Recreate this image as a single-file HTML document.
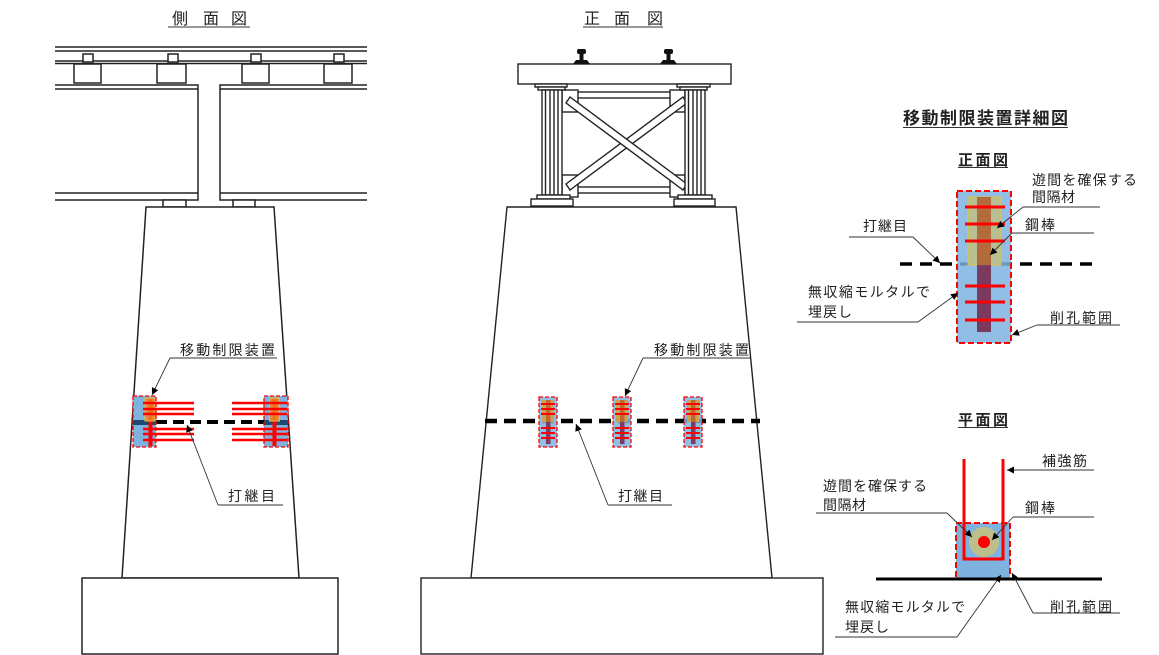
<!DOCTYPE html>
<html><head><meta charset="utf-8"><style>
html,body{margin:0;padding:0;background:#fff;}
svg{display:block;}
text{font-family:"Liberation Sans","Noto Sans CJK JP",sans-serif;fill:#222;}
</style></head><body>
<svg width="1159" height="655" viewBox="0 0 1159 655" xmlns="http://www.w3.org/2000/svg">
<defs>
<marker id="ar" viewBox="0 0 10 10" refX="10" refY="5" markerWidth="9" markerHeight="7" markerUnits="userSpaceOnUse" orient="auto">
<path d="M0,0 L10,5 L0,10 z" fill="#000"/>
</marker>
</defs>
<rect width="1159" height="655" fill="#fff"/>

<!-- ===== LEFT: side view ===== -->
<g font-size="16">
<text x="180" y="24" text-anchor="middle">側</text>
<text x="211" y="24" text-anchor="middle">面</text>
<text x="239" y="24" text-anchor="middle">図</text>
</g>
<line x1="168" y1="27" x2="250" y2="27" stroke="#333" stroke-width="1"/>

<g stroke="#222" stroke-width="1.5" fill="#fff">
<line x1="55" y1="47" x2="367" y2="47"/>
<line x1="55" y1="51" x2="367" y2="51"/>
<line x1="55" y1="61" x2="367" y2="61"/>
<line x1="55" y1="63.5" x2="367" y2="63.5"/>
<rect x="83" y="54" width="10" height="8"/>
<rect x="168" y="54" width="10" height="8"/>
<rect x="251" y="54" width="10" height="8"/>
<rect x="334" y="54" width="10" height="8"/>
<rect x="74" y="64" width="27" height="19"/>
<rect x="157" y="64" width="29" height="19"/>
<rect x="242" y="64" width="27" height="19"/>
<rect x="324" y="64" width="28" height="19"/>
<!-- girders -->
<path d="M55,85 H198 V200 H55" fill="none"/>
<line x1="55" y1="89" x2="198" y2="89"/>
<line x1="55" y1="193" x2="198" y2="193"/>
<path d="M367,85 H220 V200 H367" fill="none"/>
<line x1="220" y1="89" x2="367" y2="89"/>
<line x1="220" y1="193" x2="367" y2="193"/>
<!-- bearings -->
<rect x="163" y="200" width="23" height="7"/>
<rect x="233" y="200" width="22" height="7"/>
<!-- pier -->
<polygon points="146,207 274,207 299,578 122,578"/>
<rect x="82" y="578" width="256" height="76"/>
</g>

<!-- left joint dashed -->
<line x1="156" y1="422" x2="264" y2="422" stroke="#000" stroke-width="4" stroke-dasharray="11 6"/>

<!-- left device -->
<g>
<rect x="133" y="396" width="23" height="51" fill="#7eb3df"/>
<rect x="133" y="420" width="23" height="5" fill="#1d4a72"/>
<rect x="148.5" y="399" width="4" height="47" fill="#f00"/>
<rect x="145" y="398" width="10" height="23" fill="#f5821f" fill-opacity="0.85" stroke="#e6c040" stroke-width="1"/>
<g stroke="#f00" stroke-width="2.5">
<line x1="143" y1="403" x2="194" y2="403"/>
<line x1="143" y1="409" x2="194" y2="409"/>
<line x1="143" y1="414" x2="194" y2="414"/>
<line x1="143" y1="429" x2="194" y2="429"/>
<line x1="143" y1="434" x2="194" y2="434"/>
<line x1="143" y1="440" x2="194" y2="440"/>
</g>
<rect x="133" y="396" width="23" height="51" fill="none" stroke="#f00" stroke-width="1.3" stroke-dasharray="4 2"/>
</g>
<g>
<rect x="264" y="396" width="24" height="51" fill="#7eb3df"/>
<rect x="264" y="420" width="24" height="5" fill="#1d4a72"/>
<rect x="272.5" y="399" width="4" height="47" fill="#f00"/>
<rect x="269.5" y="398" width="10" height="23" fill="#f5821f" fill-opacity="0.85" stroke="#e6c040" stroke-width="1"/>
<g stroke="#f00" stroke-width="2.5">
<line x1="232" y1="403" x2="287" y2="403"/>
<line x1="232" y1="409" x2="287" y2="409"/>
<line x1="232" y1="414" x2="287" y2="414"/>
<line x1="232" y1="429" x2="287" y2="429"/>
<line x1="232" y1="434" x2="287" y2="434"/>
<line x1="232" y1="440" x2="287" y2="440"/>
</g>
<rect x="264" y="396" width="24" height="51" fill="none" stroke="#f00" stroke-width="1.3" stroke-dasharray="4 2"/>
</g>

<!-- left labels -->
<g font-size="14">
<text x="180" y="355" textLength="95" lengthAdjust="spacing">移動制限装置</text>
<text x="228" y="501" textLength="47" lengthAdjust="spacing">打継目</text>
</g>
<g stroke="#333" stroke-width="0.9" fill="none">
<line x1="170" y1="358" x2="277" y2="358"/>
<line x1="170" y1="358" x2="152" y2="395" marker-end="url(#ar)"/>
<line x1="218" y1="505" x2="283" y2="505"/>
<line x1="218" y1="505" x2="187" y2="425" marker-end="url(#ar)"/>
</g>

<!-- ===== MIDDLE: front view ===== -->
<g font-size="16">
<text x="592" y="24" text-anchor="middle">正</text>
<text x="622" y="24" text-anchor="middle">面</text>
<text x="655" y="24" text-anchor="middle">図</text>
</g>
<line x1="583" y1="27" x2="663" y2="27" stroke="#333" stroke-width="1"/>

<g stroke="#222" stroke-width="1.4" fill="#fff">
<polygon points="507,207 736,207 772,578 471,578"/>
<rect x="421" y="578" width="402" height="76"/>
<!-- deck -->
<rect x="518" y="64" width="213" height="20"/>
<!-- bracing frame -->
<rect x="568" y="92" width="109" height="6"/>
<rect x="568" y="187" width="109" height="6"/>
<rect x="562" y="90" width="16" height="22"/>
<rect x="562" y="175" width="16" height="22"/>
<rect x="670" y="90" width="15" height="22"/>
<rect x="670" y="175" width="15" height="22"/>
<polygon points="683,97 687,103 570,190 566,184"/>
<polygon points="566,103 570,97 687,184 683,190"/>
<!-- left column -->
<rect x="535" y="84" width="32" height="3"/>
<rect x="538" y="87" width="27" height="3"/>
<rect x="542" y="90" width="20" height="105"/>
<line x1="545.5" y1="90" x2="545.5" y2="195"/>
<line x1="550" y1="90" x2="550" y2="195"/>
<line x1="554" y1="90" x2="554" y2="195"/>
<line x1="558" y1="90" x2="558" y2="195"/>
<rect x="537" y="195" width="33" height="4"/>
<rect x="531" y="199" width="42" height="7"/>
<!-- right column -->
<rect x="677" y="84" width="33" height="3"/>
<rect x="680" y="87" width="27" height="3"/>
<rect x="685" y="90" width="20" height="105"/>
<line x1="688.5" y1="90" x2="688.5" y2="195"/>
<line x1="693" y1="90" x2="693" y2="195"/>
<line x1="697" y1="90" x2="697" y2="195"/>
<line x1="701" y1="90" x2="701" y2="195"/>
<rect x="678" y="195" width="34" height="4"/>
<rect x="674" y="199" width="41" height="7"/>
</g>
<!-- rails -->
<g fill="#111">
<rect x="577" y="49" width="9" height="5" rx="2"/>
<rect x="579.5" y="53" width="4" height="8"/>
<polygon points="573,64 590,64 587,60 576,60"/>
<rect x="664" y="49" width="9" height="5" rx="2"/>
<rect x="666.5" y="53" width="4" height="8"/>
<polygon points="660,64 677,64 674,60 663,60"/>
</g>

<!-- mid joint dashed -->
<line x1="485" y1="421" x2="760" y2="421" stroke="#000" stroke-width="4.5" stroke-dasharray="12 7"/>

<!-- mid devices -->
<g id="dv">
<rect x="539" y="397" width="18" height="50" fill="#7eb3df" fill-opacity="0.85"/>
<rect x="542" y="400" width="12" height="22" fill="#c9a254"/>
<rect x="546" y="400" width="4.5" height="22" fill="#c0692f"/>
<rect x="546" y="422" width="4.5" height="22" fill="#7b3b62"/>
<g stroke="#f00" stroke-width="2">
<line x1="541" y1="404" x2="555" y2="404"/>
<line x1="541" y1="409" x2="555" y2="409"/>
<line x1="541" y1="414" x2="555" y2="414"/>
<line x1="541" y1="428" x2="555" y2="428"/>
<line x1="541" y1="433" x2="555" y2="433"/>
<line x1="541" y1="438" x2="555" y2="438"/>
</g>
<rect x="539" y="397" width="18" height="50" fill="none" stroke="#f00" stroke-width="1.3" stroke-dasharray="4 2"/>
</g>
<use href="#dv" x="74" y="0"/>
<use href="#dv" x="145" y="0"/>

<g font-size="14">
<text x="654" y="355" textLength="95" lengthAdjust="spacing">移動制限装置</text>
<text x="618" y="501" textLength="45" lengthAdjust="spacing">打継目</text>
</g>
<g stroke="#333" stroke-width="0.9" fill="none">
<line x1="643" y1="358" x2="751" y2="358"/>
<line x1="643" y1="358" x2="625" y2="396" marker-end="url(#ar)"/>
<line x1="608" y1="505" x2="672" y2="505"/>
<line x1="608" y1="505" x2="576" y2="424" marker-end="url(#ar)"/>
</g>

<!-- ===== RIGHT: detail ===== -->
<text x="903" y="124" font-size="17" font-weight="bold" textLength="165" lengthAdjust="spacing">移動制限装置詳細図</text>
<line x1="903" y1="127.5" x2="1068" y2="127.5" stroke="#333" stroke-width="1"/>
<text x="958" y="165" font-size="15" font-weight="bold" textLength="50" lengthAdjust="spacing">正面図</text>
<line x1="958" y1="167.5" x2="1008" y2="167.5" stroke="#333" stroke-width="1"/>

<!-- front detail -->
<line x1="900" y1="264" x2="1097" y2="264" stroke="#000" stroke-width="3.5" stroke-dasharray="12 8"/>
<rect x="957" y="191" width="54" height="152" fill="#7eb3df" fill-opacity="0.85"/>
<rect x="968" y="197" width="33" height="68" fill="#bcbf8a" fill-opacity="0.9" stroke="#e6c040" stroke-width="1"/>
<rect x="977" y="197" width="14" height="68" fill="#b26c3c"/>
<rect x="977" y="265" width="14" height="67" fill="#7b3a60"/>
<g stroke="#f00" stroke-width="3">
<line x1="965" y1="207" x2="1005" y2="207"/>
<line x1="965" y1="224" x2="1005" y2="224"/>
<line x1="965" y1="241" x2="1005" y2="241"/>
<line x1="965" y1="286" x2="1005" y2="286"/>
<line x1="965" y1="302" x2="1005" y2="302"/>
<line x1="965" y1="320" x2="1005" y2="320"/>
</g>
<rect x="957" y="191" width="54" height="152" fill="none" stroke="#f00" stroke-width="2" stroke-dasharray="6 3"/>

<g font-size="14">
<text x="1032" y="185" textLength="105" lengthAdjust="spacing">遊間を確保する</text>
<text x="1032" y="202" textLength="43" lengthAdjust="spacing">間隔材</text>
<text x="1025" y="230" textLength="30" lengthAdjust="spacing">鋼棒</text>
<text x="863" y="231" textLength="44" lengthAdjust="spacing">打継目</text>
<text x="808" y="297" textLength="122" lengthAdjust="spacing">無収縮モルタルで</text>
<text x="808" y="317" textLength="44" lengthAdjust="spacing">埋戻し</text>
<text x="1050" y="323" textLength="62" lengthAdjust="spacing">削孔範囲</text>
</g>
<g stroke="#333" stroke-width="0.9" fill="none">
<line x1="849" y1="237" x2="913" y2="237"/>
<line x1="913" y1="237" x2="940" y2="263" marker-end="url(#ar)"/>
<line x1="1023" y1="207" x2="1100" y2="207"/>
<line x1="1023" y1="207" x2="997" y2="228" marker-end="url(#ar)"/>
<line x1="1012" y1="233" x2="1094" y2="233"/>
<line x1="1012" y1="233" x2="990" y2="255" marker-end="url(#ar)"/>
<line x1="797" y1="322" x2="918" y2="322"/>
<line x1="918" y1="322" x2="958" y2="293" marker-end="url(#ar)"/>
<line x1="1037" y1="325" x2="1120" y2="325"/>
<line x1="1037" y1="325" x2="1012" y2="335" marker-end="url(#ar)"/>
</g>

<!-- plan detail -->
<text x="958" y="425" font-size="15" font-weight="bold" textLength="50" lengthAdjust="spacing">平面図</text>
<line x1="958" y1="427.5" x2="1008" y2="427.5" stroke="#333" stroke-width="1"/>

<rect x="956" y="523" width="54" height="55" fill="#7eb3df"/>
<circle cx="984" cy="542" r="15" fill="#bcbf8a"/>
<circle cx="984" cy="542" r="6" fill="#f00"/>
<path d="M964,459 V559 H1003 V459" fill="none" stroke="#f00" stroke-width="3"/>
<path d="M956,577 V523 H1010 V577" fill="none" stroke="#f00" stroke-width="2" stroke-dasharray="6 3"/>
<line x1="876" y1="579" x2="1102" y2="579" stroke="#000" stroke-width="3"/>

<g font-size="14">
<text x="1042" y="466" textLength="45" lengthAdjust="spacing">補強筋</text>
<text x="823" y="491" textLength="104" lengthAdjust="spacing">遊間を確保する</text>
<text x="823" y="510" textLength="43" lengthAdjust="spacing">間隔材</text>
<text x="1025" y="513" textLength="30" lengthAdjust="spacing">鋼棒</text>
<text x="845" y="612" textLength="120" lengthAdjust="spacing">無収縮モルタルで</text>
<text x="845" y="632" textLength="44" lengthAdjust="spacing">埋戻し</text>
<text x="1050" y="612" textLength="62" lengthAdjust="spacing">削孔範囲</text>
</g>
<g stroke="#333" stroke-width="0.9" fill="none">
<line x1="1094" y1="470" x2="1007" y2="470" marker-end="url(#ar)"/>
<line x1="816" y1="513" x2="947" y2="513"/>
<line x1="947" y1="513" x2="972" y2="537" marker-end="url(#ar)"/>
<line x1="1013" y1="517" x2="1094" y2="517"/>
<line x1="1013" y1="517" x2="992" y2="540" marker-end="url(#ar)"/>
<line x1="835" y1="637" x2="957" y2="637"/>
<line x1="957" y1="637" x2="1001" y2="575" marker-end="url(#ar)"/>
<line x1="1033" y1="613" x2="1120" y2="613"/>
<line x1="1033" y1="613" x2="1012" y2="573" marker-end="url(#ar)"/>
</g>
</svg>
</body></html>
